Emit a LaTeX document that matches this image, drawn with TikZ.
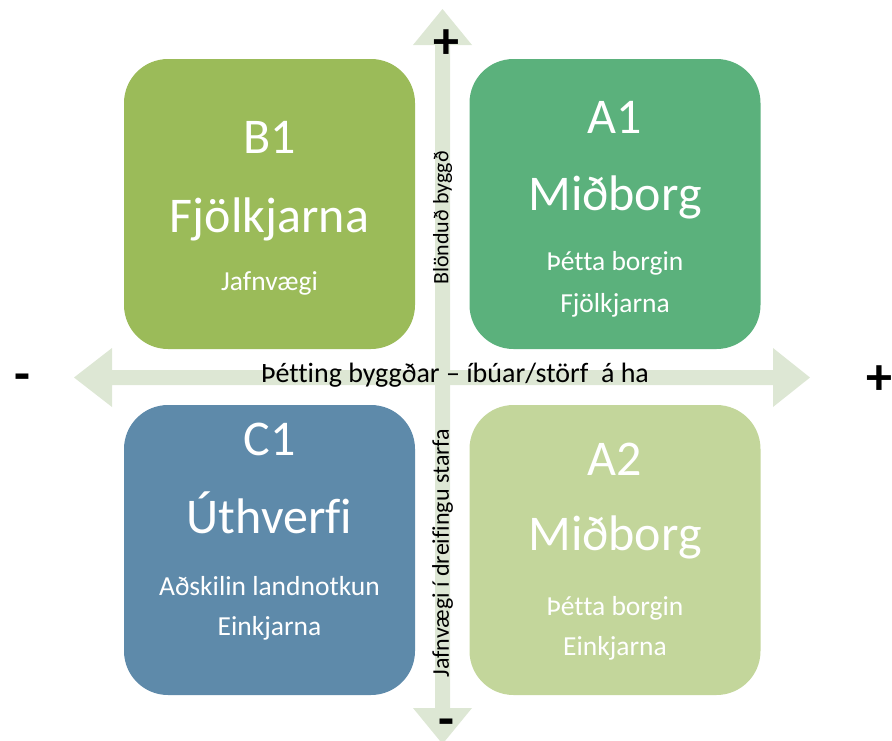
\documentclass[tikz,border=0pt]{standalone}
\usepackage{fontspec}
\setmainfont[Ligatures=NoCommon,RawFeature={-liga;-clig}]{Carlito}
\definecolor{bonecol}{RGB}{155,187,89}
\definecolor{aonecol}{RGB}{91,177,124}
\definecolor{conecol}{RGB}{94,138,170}
\definecolor{atwocol}{RGB}{195,214,155}
\definecolor{axiscol}{RGB}{221,231,212}
\tikzset{
  quad/.style={draw=none, rounded corners=44pt, minimum width=291pt, minimum height=290pt, inner sep=0pt},
  bigtxt/.style={text=white, anchor=base, inner sep=0pt, font=\fontsize{50}{50}\selectfont},
  smalltxt/.style={text=white, anchor=base, inner sep=0pt, font=\fontsize{27.5}{27.5}\selectfont},
  axistxt/.style={text=black, inner sep=0pt, font=\fontsize{24}{24}\selectfont},
  signtxt/.style={text=black, inner sep=0pt, anchor=base, font=\fontsize{52}{52}\selectfont\bfseries}
}
\begin{document}
\begin{tikzpicture}[x=1pt,y=-1pt]
\useasboundingbox (0,0) rectangle (892,740);
% axes
\fill[axiscol] (435,45) -- (413,45) -- (442.5,9) -- (472,45) -- (450,45) -- (450,708) -- (472,708) -- (442.5,744) -- (413,708) -- (435,708) -- cycle;
\fill[axiscol] (112,370) -- (112,348) -- (74,377.5) -- (112,407) -- (112,385) -- (773,385) -- (773,407) -- (810,377.5) -- (773,348) -- (773,370) -- cycle;
% quadrants
\node[quad, fill=bonecol] (b1) at (269.5,204) {};
\node[quad, fill=aonecol] (a1) at (615,204) {};
\node[quad, fill=conecol] (c1) at (269.5,550) {};
\node[quad, fill=atwocol] (a2) at (615,550) {};
% B1 texts
\node[bigtxt] (b1t1) at (269.5,153) {B1};
\node[bigtxt] (b1t2) at (269.5,232) {Fjölkjarna};
\node[smalltxt] (b1t3) at (269.5,290) {Jafnvægi};
% A1 texts
\node[bigtxt] (a1t1) at (615,133) {A1};
\node[bigtxt] (a1t2) at (615,210) {Miðborg};
\node[smalltxt] (a1t3) at (615,270) {Þétta borgin};
\node[smalltxt] (a1t4) at (615,312) {Fjölkjarna};
% C1 texts
\node[bigtxt] (c1t1) at (269.5,455) {C1};
\node[bigtxt] (c1t2) at (269.5,533) {Úthverfi};
\node[smalltxt] (c1t3) at (269.5,595) {Aðskilin landnotkun};
\node[smalltxt] (c1t4) at (269.5,635) {Einkjarna};
% A2 texts
\node[bigtxt] (a2t1) at (615,475) {A2};
\node[bigtxt] (a2t2) at (615,550) {Miðborg};
\node[smalltxt] (a2t3) at (615,615) {Þétta borgin};
\node[smalltxt] (a2t4) at (615,655) {Einkjarna};
% axis labels
\node[axistxt, rotate=90, font=\fontsize{22}{22}\selectfont] (vup) at (442.5,218) {Blönduð byggð};
\node[axistxt, rotate=90] (vdown) at (442.5,553) {Jafnvægi í dreifingu starfa};
\node[axistxt, font=\fontsize{28}{28}\selectfont] (hlab) at (455,375) {Þétting byggðar – íbúar/störf\ \ á ha};
% signs
\node[signtxt] (ptop) at (446.5,58) {+};
\node[signtxt] (pright) at (879,394) {+};
\node[signtxt] (mleft) at (22,391) {-};
\node[signtxt] (mbot) at (446.5,736) {-};
\end{tikzpicture}
\end{document}
